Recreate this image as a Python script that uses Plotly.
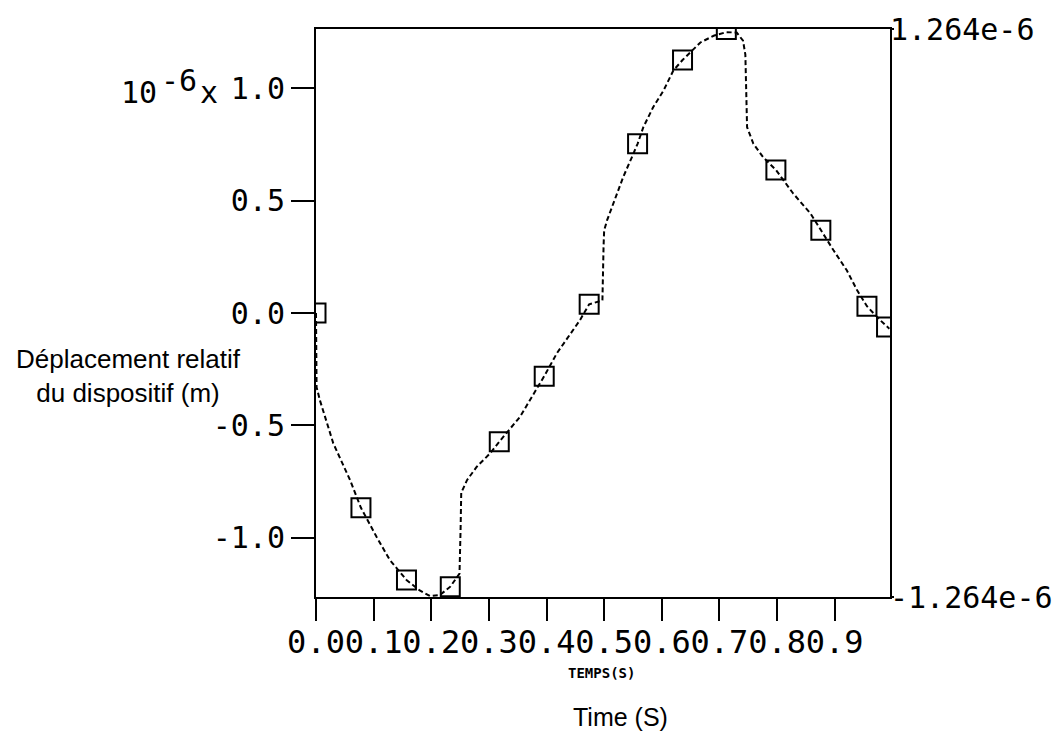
import plotly.graph_objects as go

# ---- data (time in s, displacement in 1e-6 m) ----
curve_time = [0.000, 0.001, 0.007, 0.030, 0.059, 0.078, 0.105, 0.128, 0.157, 0.180,
              0.198, 0.215, 0.233, 0.249, 0.251, 0.252, 0.262, 0.279, 0.302, 0.318,
              0.354, 0.382, 0.396, 0.418, 0.458, 0.474, 0.490, 0.497, 0.499, 0.500,
              0.505, 0.516, 0.533, 0.548, 0.558, 0.568, 0.585, 0.603, 0.620, 0.636,
              0.667, 0.690, 0.712, 0.730, 0.741, 0.745, 0.747, 0.748, 0.759, 0.776,
              0.798, 0.828, 0.858, 0.876, 0.898, 0.921, 0.939, 0.956, 0.979, 0.995]
curve_disp = [0.000, -0.330, -0.390, -0.580, -0.743, -0.867, -0.996, -1.099, -1.188, -1.235,
              -1.260, -1.255, -1.218, -1.160, -0.950, -0.800, -0.744, -0.684, -0.625, -0.573,
              -0.462, -0.343, -0.281, -0.179, -0.032, 0.039, 0.050, 0.056, 0.300, 0.368,
              0.412, 0.487, 0.605, 0.693, 0.753, 0.827, 0.916, 0.990, 1.079, 1.126,
              1.204, 1.234, 1.250, 1.248, 1.212, 1.150, 1.000, 0.827, 0.753, 0.693,
              0.637, 0.532, 0.443, 0.368, 0.279, 0.190, 0.101, 0.030, -0.032, -0.070]

marker_time = [0.000, 0.078, 0.157, 0.233, 0.318, 0.396, 0.474, 0.558, 0.636, 0.712,
               0.798, 0.876, 0.956, 0.990]
marker_disp = [0.000, -0.867, -1.188, -1.218, -0.573, -0.281, 0.039, 0.753, 1.126, 1.262,
               0.637, 0.368, 0.030, -0.062]

x_tick_vals = [0.0, 0.1, 0.2, 0.3, 0.4, 0.5, 0.6, 0.7, 0.8, 0.9]
x_tick_text = ["0.0", "0.1", "0.2", "0.3", "0.4", "0.5", "0.6", "0.7", "0.8", "0.9"]
y_tick_vals = [-1.0, -0.5, 0.0, 0.5, 1.0]
y_tick_text = ["-1.0", "-0.5", "0.0", "0.5", "1.0"]
y_limit = 1.264
y2_tick_text = ["-1.264e-6", "1.264e-6"]

MONO = "DejaVu Sans Mono"
SANS = "Liberation Sans, Arial"

# the page body adds an 8px margin; compensate so the plot sits where the reference has it
OFF = 8
L, T, R, B = 316 - OFF, 29 - OFF, 890 - OFF, 597 - OFF
W, H = 1061 - OFF, 733 - OFF

fig = go.Figure()
fig.add_trace(go.Scatter(
    x=curve_time, y=curve_disp, mode="lines",
    line=dict(color="black", width=2, dash="5px,3px"),
    showlegend=False, hoverinfo="skip"))
fig.add_trace(go.Scatter(
    x=marker_time, y=marker_disp, mode="markers",
    marker=dict(symbol="square-open", size=19, color="black",
                line=dict(color="black", width=2)),
    showlegend=False))
# invisible trace so the right-hand axis is drawn
fig.add_trace(go.Scatter(x=[None], y=[None], yaxis="y2", mode="lines",
                         showlegend=False, hoverinfo="skip"))

fig.update_layout(
    width=W, height=H, autosize=False,
    margin=dict(l=L, r=W - R, t=T, b=H - B, pad=0, autoexpand=False),
    paper_bgcolor="white", plot_bgcolor="white",
    xaxis=dict(range=[0, 0.996], tickvals=x_tick_vals, ticktext=x_tick_text,
               tickangle=0, ticks="outside", ticklen=22, tickwidth=2, tickcolor="black",
               ticklabelstandoff=-6, automargin=False,
               showline=True, linewidth=2, linecolor="black", mirror=True,
               showgrid=False, zeroline=False,
               tickfont=dict(family=MONO, size=32, color="black")),
    yaxis=dict(range=[-y_limit, y_limit], tickvals=y_tick_vals, ticktext=y_tick_text,
               ticks="outside", ticklen=23, tickwidth=2, tickcolor="black",
               automargin=False,
               showline=True, linewidth=2, linecolor="black", mirror=True,
               showgrid=False, zeroline=False,
               tickfont=dict(family=MONO, size=30, color="black")),
    yaxis2=dict(range=[-y_limit, y_limit], overlaying="y", side="right", anchor="x",
                tickvals=[-y_limit, y_limit], ticktext=y2_tick_text,
                ticks="outside", ticklen=3, tickwidth=2, tickcolor="black",
                ticklabelstandoff=-10, automargin=False,
                showline=False, showgrid=False, zeroline=False,
                tickfont=dict(family=MONO, size=30, color="black")),
)

def px_x(px):
    return (px - 316) / 574.0

def px_y(py):
    return (597 - py) / 568.0

annotations = [
    dict(text="Déplacement relatif<br>du dispositif (m)", x=px_x(128), y=px_y(376),
         xanchor="center", yanchor="middle", font=dict(family=SANS, size=26, color="black")),
    dict(text="Time (S)", x=px_x(620), y=px_y(717),
         xanchor="center", yanchor="middle", font=dict(family=SANS, size=25, color="black")),
    dict(text="<b>TEMPS(S)</b>", x=px_x(601), y=px_y(673),
         xanchor="center", yanchor="middle", font=dict(family=MONO, size=14, color="black")),
    dict(text="10", x=px_x(158), y=px_y(92), xanchor="right", yanchor="middle",
         font=dict(family=MONO, size=30, color="black")),
    dict(text="-6", x=px_x(160), y=px_y(80), xanchor="left", yanchor="middle",
         font=dict(family=MONO, size=30, color="black")),
    dict(text="x", x=px_x(199), y=px_y(92), xanchor="left", yanchor="middle",
         font=dict(family=MONO, size=30, color="black")),
]
for a in annotations:
    a.update(xref="paper", yref="paper", showarrow=False, borderpad=0)
fig.update_layout(annotations=annotations)

fig.write_html("out.html")
